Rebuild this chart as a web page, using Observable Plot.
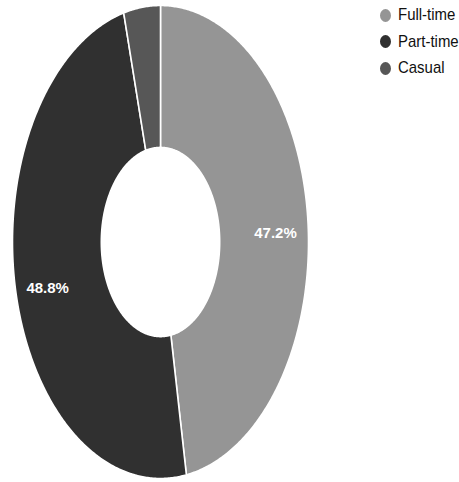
<!DOCTYPE html>
<html>
<head>
<meta charset="utf-8">
<script src="https://cdn.jsdelivr.net/npm/d3@7"></script>
<script src="https://cdn.jsdelivr.net/npm/@observablehq/plot@0.6"></script>
<style>
  body { margin: 0; background: #fff; font-family: "Liberation Sans", Arial, sans-serif; }
  #wrap { position: relative; width: 459px; height: 482px; }
  #chart { position: absolute; left: 0; top: 0; }
  #legend { position: absolute; left: 380px; top: 2px; white-space: nowrap; }
  .item { display: flex; align-items: center; height: 26.5px; color: #111; }
  .dot { width: 11px; height: 13px; border-radius: 50%; margin-right: 7px; flex: none; }
  .name { display: inline-block; font-size: 17px; transform: scaleX(0.88); transform-origin: left center; }
</style>
</head>
<body>
<div id="wrap"><div id="chart"></div><div id="legend"></div></div>
<script>
// Employment type shares (%)
const categories = ["Full-time", "Part-time", "Casual"];
const shares = [47.2, 48.8, 4.0];
const valueLabels = ["47.2%", "48.8%", ""];
const colors = ["#959595", "#303030", "#575757"];

const innerRatio = 0.40;
const labelRadius = 0.78;

// Slice angles, starting at 12 o'clock and running clockwise
const pie = d3.pie().sort(null).value(d => d.share);
const arcs = pie(categories.map((c, i) => ({category: c, share: shares[i], label: valueLabels[i]})));

// Ring outline for each slice: outer arc forward, inner arc back, closed
const ring = [];
for (const a of arcs) {
  const n = Math.max(2, Math.ceil((a.endAngle - a.startAngle) / (Math.PI / 360)));
  const pts = [];
  for (let k = 0; k <= n; k++) {
    const t = a.startAngle + (a.endAngle - a.startAngle) * k / n;
    pts.push({category: a.data.category, x: Math.sin(t), y: Math.cos(t)});
  }
  for (let k = n; k >= 0; k--) {
    const t = a.startAngle + (a.endAngle - a.startAngle) * k / n;
    pts.push({category: a.data.category, x: innerRatio * Math.sin(t), y: innerRatio * Math.cos(t)});
  }
  pts.push({...pts[0]});
  ring.push(...pts);
}

const labelRows = arcs.filter(a => a.data.label).map(a => {
  const m = (a.startAngle + a.endAngle) / 2;
  return {x: labelRadius * Math.sin(m), y: labelRadius * Math.cos(m), text: a.data.label};
});

const chart = Plot.plot({
  width: 320,
  height: 482,
  marginLeft: 12,
  marginRight: 12,
  marginTop: 5,
  marginBottom: 4,
  x: {domain: [-1, 1], axis: null},
  y: {domain: [-1, 1], axis: null},
  color: {domain: categories, range: colors},
  marks: [
    Plot.line(ring, {x: "x", y: "y", z: "category", fill: "category", stroke: "white", strokeWidth: 1.6, curve: "linear"}),
    Plot.text(labelRows, {x: "x", y: "y", dy: 7, text: "text", fill: "white", fontSize: 15, fontWeight: "bold",
      fontFamily: "Liberation Sans, Arial, sans-serif"})
  ]
});
document.getElementById("chart").append(chart);

// Legend
const legend = d3.select("#legend");
categories.forEach((c, i) => {
  const item = legend.append("div").attr("class", "item");
  item.append("span").attr("class", "dot").style("background", colors[i]);
  item.append("span").attr("class", "name").text(c);
});
</script>
</body>
</html>
